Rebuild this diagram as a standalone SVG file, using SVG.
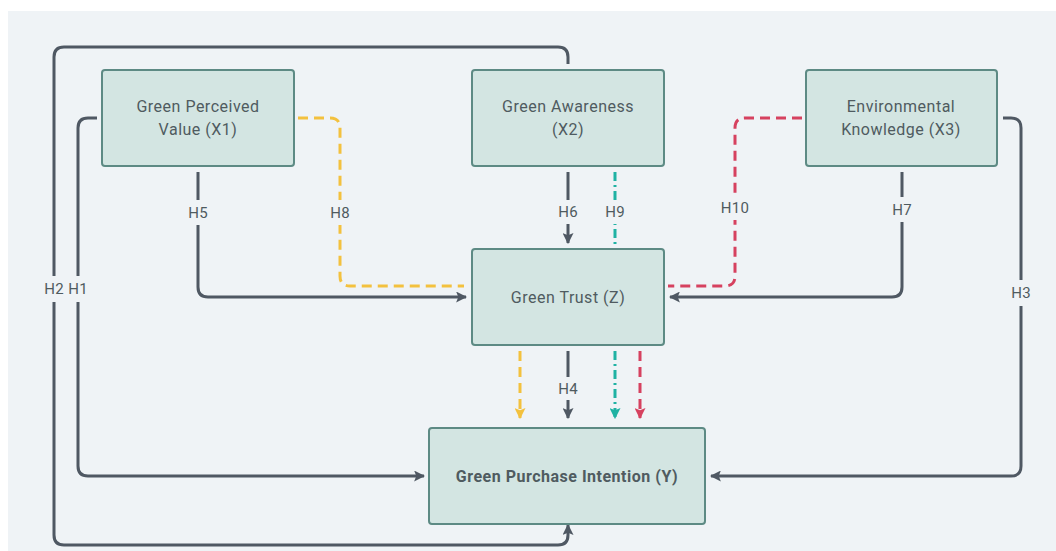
<svg xmlns="http://www.w3.org/2000/svg" width="1056" height="551" viewBox="0 0 1056 551">
<style>
.node rect{fill:#d3e5e2;stroke:#5d8a84;stroke-width:2}
.node text{font-family:Roboto,"Liberation Sans",sans-serif;font-size:16px;letter-spacing:0.5px;fill:#4f5b60;text-anchor:middle}
.conn path{fill:none;stroke-width:3;stroke-linejoin:round}
.dark{stroke:#4f5863}
.yel{stroke:#f3c13e;stroke-dasharray:10 6}
.teal{stroke:#1fb2a3;stroke-dasharray:9 4 2 4}
.red{stroke:#d6415f;stroke-dasharray:10 6}
.lbl rect{fill:#eff3f6}
.lbl text{font-family:Roboto,"Liberation Sans",sans-serif;font-size:15px;letter-spacing:0.3px;fill:#4f5b60;text-anchor:middle}
</style>
<defs>
<marker id="aD" viewBox="0 0 10 10" refX="9" refY="5" markerWidth="11" markerHeight="11" markerUnits="userSpaceOnUse" orient="auto"><path d="M0,0 L10,5 L0,10 L2,5 z" fill="#4f5863"/></marker>
<marker id="aY" viewBox="0 0 10 10" refX="9" refY="5" markerWidth="11" markerHeight="11" markerUnits="userSpaceOnUse" orient="auto"><path d="M0,0 L10,5 L0,10 L2,5 z" fill="#f3c13e"/></marker>
<marker id="aT" viewBox="0 0 10 10" refX="9" refY="5" markerWidth="11" markerHeight="11" markerUnits="userSpaceOnUse" orient="auto"><path d="M0,0 L10,5 L0,10 L2,5 z" fill="#1fb2a3"/></marker>
<marker id="aR" viewBox="0 0 10 10" refX="9" refY="5" markerWidth="11" markerHeight="11" markerUnits="userSpaceOnUse" orient="auto"><path d="M0,0 L10,5 L0,10 L2,5 z" fill="#d6415f"/></marker>
</defs>
<rect x="0" y="0" width="1056" height="551" fill="#ffffff"/>
<rect x="8" y="11" width="1048" height="540" fill="#eff3f6"/>
<g class="conn" id="connectors">
<path class="dark" d="M568,64 V57 Q568,47 558,47 H64 Q54,47 54,57 V535 Q54,545 64,545 H558 Q568,545 568,535 V525" marker-end="url(#aD)"/>
<path class="dark" d="M97,118 H88 Q78,118 78,128 V466 Q78,476 88,476 H424" marker-end="url(#aD)"/>
<path class="dark" d="M1003,118 H1011 Q1021,118 1021,128 V466 Q1021,476 1011,476 H711" marker-end="url(#aD)"/>
<path class="dark" d="M198,172 V287 Q198,297 208,297 H466" marker-end="url(#aD)"/>
<path class="yel" d="M298,118 H330 Q340,118 340,128 V276 Q340,286 350,286 H464"/>
<path class="dark" d="M568,172 V243" marker-end="url(#aD)"/>
<path class="teal" d="M615,172 V249"/>
<path class="red" d="M802,118 H745 Q735,118 735,128 V276 Q735,286 725,286 H668"/>
<path class="dark" d="M902,172 V287 Q902,297 892,297 H670" marker-end="url(#aD)"/>
<path class="yel" d="M520,351 V418" marker-end="url(#aY)"/>
<path class="dark" d="M568,351 V418" marker-end="url(#aD)"/>
<path class="teal" d="M615,351 V418" marker-end="url(#aT)"/>
<path class="red" d="M640,351 V418" marker-end="url(#aR)"/>
</g>
<g class="lbl" id="labels">
<rect x="43" y="276" width="22" height="26"/><text x="54" y="294">H2</text>
<rect x="67" y="276" width="22" height="26"/><text x="78" y="294">H1</text>
<rect x="1009" y="280" width="24" height="26"/><text x="1021" y="298">H3</text>
<rect x="185" y="200" width="26" height="25"/><text x="198" y="218">H5</text>
<rect x="327" y="200" width="26" height="25"/><text x="340" y="218">H8</text>
<rect x="555" y="200" width="26" height="24"/><text x="568" y="217">H6</text>
<rect x="602" y="200" width="26" height="24"/><text x="615" y="217">H9</text>
<rect x="718" y="195" width="34" height="25"/><text x="735" y="213">H10</text>
<rect x="889" y="197" width="26" height="25"/><text x="902" y="215">H7</text>
<rect x="555" y="377" width="26" height="23"/><text x="568" y="394">H4</text>
</g>
<g class="node" id="x1"><rect x="102" y="70" width="192" height="96" rx="3"/><text x="198" y="112">Green Perceived</text><text x="198" y="135">Value (X1)</text></g>
<g class="node" id="x2"><rect x="472" y="70" width="192" height="96" rx="3"/><text x="568" y="112">Green Awareness</text><text x="568" y="135">(X2)</text></g>
<g class="node" id="x3"><rect x="806" y="70" width="191" height="96" rx="3"/><text x="901" y="112">Environmental</text><text x="901" y="135">Knowledge (X3)</text></g>
<g class="node" id="z"><rect x="472" y="249" width="192" height="96" rx="3"/><text x="568" y="303">Green Trust (Z)</text></g>
<g class="node" id="y"><rect x="429" y="428" width="276" height="96" rx="3"/><text x="567" y="482" font-weight="bold">Green Purchase Intention (Y)</text></g>
</svg>
